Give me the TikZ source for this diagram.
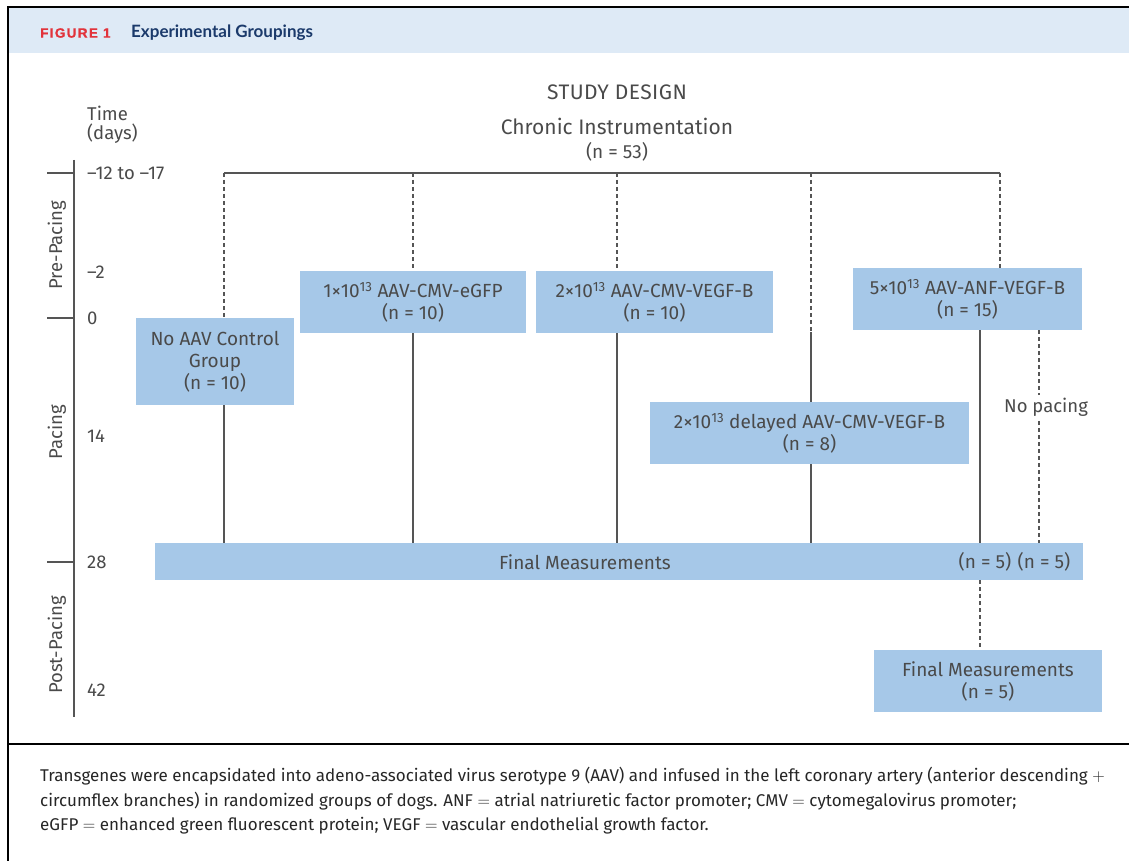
\documentclass[tikz,border=0pt]{standalone}
\usepackage{fontspec}
\setmainfont{Fira Sans}
\newfontfamily\hdrfont{Lato}
\newfontfamily\figfont{Liberation Sans}
\definecolor{boxfill}{HTML}{A6C8E8}
\definecolor{hdrfill}{HTML}{DEEAF6}
\definecolor{lnc}{HTML}{555555}
\definecolor{txtc}{HTML}{4A4A4A}
\definecolor{figred}{HTML}{E2333B}
\definecolor{navy}{HTML}{1B3A6B}
\begin{document}
\begin{tikzpicture}[x=1pt,y=-1pt,
  groupbox/.style={fill=boxfill,draw=none,text=txtc,align=center,inner sep=0pt,
     font=\fontsize{19}{22}\selectfont},
  lbl/.style={text=txtc,inner sep=0pt,font=\fontsize{18.5}{21}\selectfont},
  captxt/.style={anchor=west,inner sep=0pt,text=black!85,font=\fontsize{17}{20}\selectfont},
  solidline/.style={draw=lnc,line width=1.8pt},
  dashline/.style={draw=lnc,line width=1.8pt,dash pattern=on 4pt off 3pt},
  frameline/.style={draw=black,line width=1.6pt}]
\useasboundingbox (0,0) rectangle (1129,861);
% header and frame
\fill[hdrfill] (8,8) rectangle (1129,53);
\draw[frameline] (1129,7) -- (8,7) -- (8,861);
\draw[frameline] (8,744) -- (1129,744);
\node[anchor=west,inner sep=0pt,text=figred,font=\figfont\fontsize{13.5}{16}\selectfont\bfseries\addfontfeatures{LetterSpace=10,FakeBold=1}] (fig) at (40,33) {FIGURE 1};
\node[anchor=west,inner sep=0pt,text=navy,font=\hdrfont\fontsize{17}{18}\selectfont\bfseries] (figtitle) at (131,33) {Experimental Groupings};
% titles
\node[lbl,font=\fontsize{21}{24}\selectfont\addfontfeatures{LetterSpace=2}] (sd) at (617,92) {STUDY DESIGN};
\node[lbl,font=\fontsize{21}{24}\selectfont] (ci) at (617,126) {Chronic Instrumentation};
\node[lbl,font=\fontsize{19}{22}\selectfont] (n53) at (617,152) {(n = 53)};
% time axis
\node[lbl,anchor=west] (time) at (87,113) {Time};
\node[lbl,anchor=west] (days) at (87,134) {(days)};
\coordinate (axtop) at (74,160);
\coordinate (axbot) at (74,717);
\draw[solidline] (axtop) -- (axbot);
\coordinate (tk1) at (74,173);
\coordinate (tk2) at (74,318);
\coordinate (tk3) at (74,562);
\draw[solidline] (tk1) -- ++(-27,0);
\draw[solidline] (tk2) -- ++(-27,0);
\draw[solidline] (tk3) -- ++(-27,0);
\node[lbl,anchor=west] (d1) at (87,173) {–12 to –17};
\node[lbl,anchor=west] (d2) at (87,272) {–2};
\node[lbl,anchor=west] (d3) at (87,318) {0};
\node[lbl,anchor=west] (d4) at (87,436) {14};
\node[lbl,anchor=west] (d5) at (87,562) {28};
\node[lbl,anchor=west] (d6) at (87,690) {42};
\node[lbl,rotate=90] (pre) at (57,245) {Pre-Pacing};
\node[lbl,rotate=90] (pac) at (57,432) {Pacing};
\node[lbl,rotate=90] (post) at (57,645) {Post-Pacing};
% boxes
\node[groupbox,minimum width=158pt,minimum height=87pt] (ctrl) at (215,361.5) {No AAV Control\\Group\\(n = 10)};
\node[groupbox,minimum width=226pt,minimum height=62pt] (egfp) at (413,302) {1×10\textsuperscript{13} AAV-CMV-eGFP\\(n = 10)};
\node[groupbox,minimum width=237pt,minimum height=62pt] (vegf) at (654.5,302) {2×10\textsuperscript{13} AAV-CMV-VEGF-B\\(n = 10)};
\node[groupbox,minimum width=229pt,minimum height=62pt] (anf) at (967.5,299) {5×10\textsuperscript{13} AAV-ANF-VEGF-B\\(n = 15)};
\node[groupbox,minimum width=319pt,minimum height=62pt] (dly) at (809.5,433) {2×10\textsuperscript{13} delayed AAV-CMV-VEGF-B\\(n = 8)};
\node[groupbox,minimum width=928pt,minimum height=37pt] (final) at (619,561.5) {};
\node[groupbox,minimum width=228pt,minimum height=62pt] (final2) at (988,681) {Final Measurements\\(n = 5)};
\node[lbl,font=\fontsize{19}{22}\selectfont] (fmtext) at (585,562) {Final Measurements};
\node[lbl,font=\fontsize{19}{22}\selectfont] (n5a) at (985,562) {(n = 5)};
\node[lbl,font=\fontsize{19}{22}\selectfont] (n5b) at (1044,562) {(n = 5)};
% tree
\coordinate (t1) at (224,173);
\coordinate (t2) at (413,173);
\coordinate (t3) at (617,173);
\coordinate (t4) at (811,173);
\coordinate (t5) at (1000,173);
\coordinate (b1) at (980,330);
\coordinate (b2) at (1039,330);
\coordinate (m4) at (811,332);
\draw[solidline] (t1) -- (t5);
\draw[dashline] (t1) -- (t1 |- ctrl.north);
\draw[dashline] (t2) -- (t2 |- egfp.north);
\draw[dashline] (t3) -- (t3 |- vegf.north);
\draw[dashline] (t4) -- (m4);
\draw[dashline] (t5) -- (t5 |- anf.north);
\draw[solidline] (t1 |- ctrl.south) -- (t1 |- final.north);
\draw[solidline] (t2 |- egfp.south) -- (t2 |- final.north);
\draw[solidline] (t3 |- vegf.south) -- (t3 |- final.north);
\draw[solidline] (m4) -- (m4 |- dly.north);
\draw[solidline] (m4 |- dly.south) -- (m4 |- final.north);
\draw[solidline] (b1) -- (b1 |- final.north);
\draw[dashline] (b2) -- (b2 |- final.north);
\draw[dashline] (b1 |- final.south) -- (b1 |- final2.north);
\node[lbl,fill=white,inner sep=3pt] (nopace) at (1046,407) {No pacing};
% caption
\node[captxt] (cap1) at (40,776) {Transgenes were encapsidated into adeno-associated virus serotype 9 (AAV) and infused in the left coronary artery (anterior descending $+$};
\node[captxt] (cap2) at (40,801) {circumflex branches) in randomized groups of dogs. ANF $=$ atrial natriuretic factor promoter; CMV $=$ cytomegalovirus promoter;};
\node[captxt] (cap3) at (40,826) {eGFP $=$ enhanced green fluorescent protein; VEGF $=$ vascular endothelial growth factor.};
\end{tikzpicture}
\end{document}
